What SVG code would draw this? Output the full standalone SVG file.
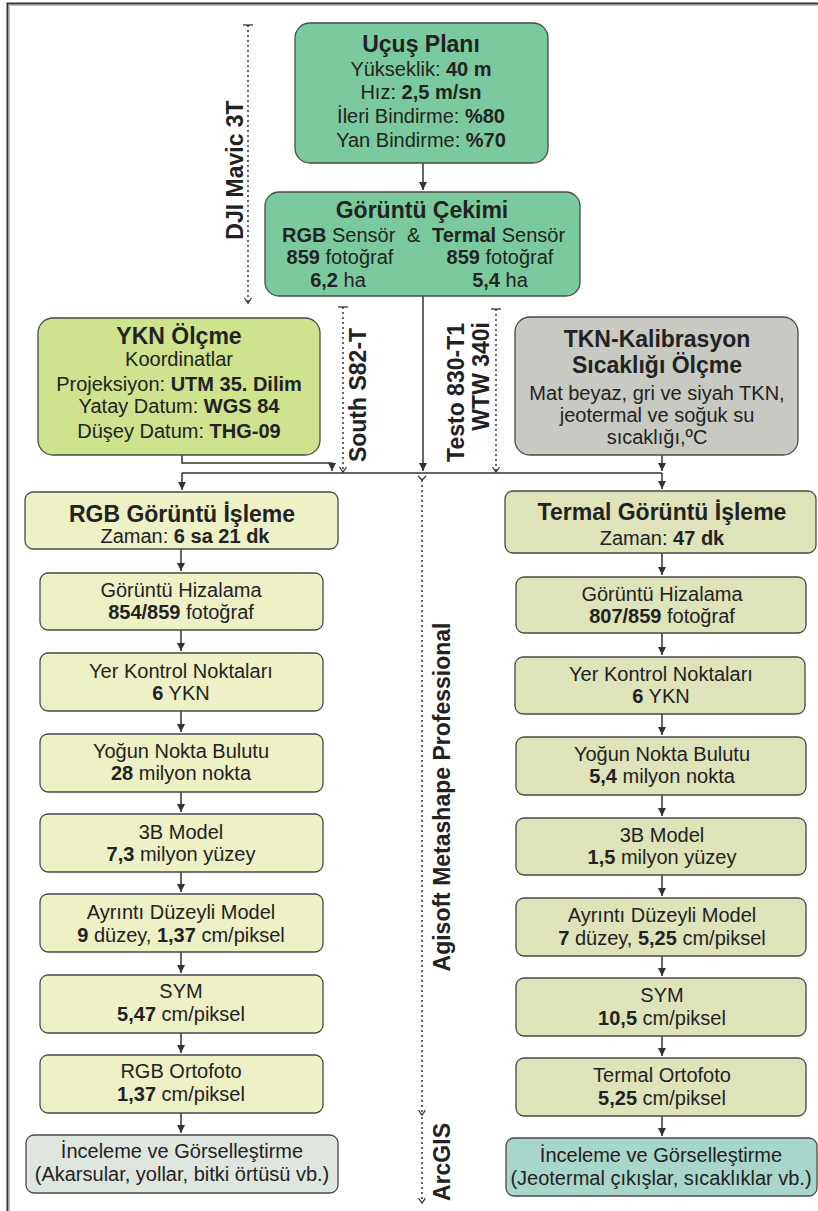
<svg xmlns="http://www.w3.org/2000/svg" width="818" height="1211" viewBox="0 0 818 1211">
<defs>
<style>
text{font-family:"Liberation Sans",Arial,sans-serif;fill:#222;}
.t{font-size:20px;text-anchor:middle;}
.h{font-size:23px;font-weight:bold;text-anchor:middle;}
.b{font-weight:bold;}
.lab{font-size:23px;font-weight:bold;text-anchor:middle;}
.box{stroke:#4a4a4a;stroke-width:1.3;}
.g1{fill:#7bca9f;}
.ykn{fill:#cfe28e;}
.tkn{fill:#c9c9c3;}
.ly{fill:#eef0c6;}
.ry{fill:#dfe3b9;}
.li{fill:#dfe5df;}
.ri{fill:#a9d6ca;}
.ln{fill:none;stroke:#333;stroke-width:1.5;}
.dt{fill:none;stroke:#333;stroke-width:1.5;stroke-dasharray:2 3;}
.tk{fill:none;stroke:#333;stroke-width:1.3;}
</style>
<marker id="ar" markerWidth="10" markerHeight="10" refX="8" refY="5" orient="auto" markerUnits="userSpaceOnUse">
<path d="M0,1 L8,5 L0,9 Z" fill="#333"/>
</marker>
<marker id="ch" markerWidth="10" markerHeight="10" refX="6" refY="5" orient="auto" markerUnits="userSpaceOnUse">
<path d="M1,1.5 L6,5 L1,8.5" fill="none" stroke="#333" stroke-width="1.3"/>
</marker>
</defs>
<rect x="0" y="0" width="818" height="1211" fill="#fff"/>
<g id="frame">
<path d="M7.5,1211 V3.5 H818" fill="none" stroke="#333" stroke-width="2"/>
<path d="M9.5,1211 V5.5 H818" fill="none" stroke="#bbb" stroke-width="1"/>
</g>

<g id="connectors">
<path class="ln" d="M423,163 V190" marker-end="url(#ar)"/>
<path class="ln" d="M423,296 V471" marker-end="url(#ar)"/>
<path class="ln" d="M182,455 V463 H332 V471" marker-end="url(#ar)"/>
<path class="ln" d="M662,455 V471" marker-end="url(#ar)"/>
<path class="ln" d="M182,473 H662"/>
<path class="ln" d="M182,473 V490" marker-end="url(#ar)"/>
<path class="ln" d="M662,473 V489" marker-end="url(#ar)"/>
<path class="ln" d="M181,549 V571" marker-end="url(#ar)"/>
<path class="ln" d="M181,630 V651" marker-end="url(#ar)"/>
<path class="ln" d="M181,711 V732" marker-end="url(#ar)"/>
<path class="ln" d="M181,792 V812" marker-end="url(#ar)"/>
<path class="ln" d="M181,872 V892" marker-end="url(#ar)"/>
<path class="ln" d="M181,952 V973" marker-end="url(#ar)"/>
<path class="ln" d="M181,1033 V1053" marker-end="url(#ar)"/>
<path class="ln" d="M181,1113 V1133" marker-end="url(#ar)"/>
<path class="ln" d="M662,553 V575" marker-end="url(#ar)"/>
<path class="ln" d="M662,633 V655" marker-end="url(#ar)"/>
<path class="ln" d="M662,714 V735" marker-end="url(#ar)"/>
<path class="ln" d="M662,795 V816" marker-end="url(#ar)"/>
<path class="ln" d="M662,875 V896" marker-end="url(#ar)"/>
<path class="ln" d="M662,956 V976" marker-end="url(#ar)"/>
<path class="ln" d="M662,1036 V1056" marker-end="url(#ar)"/>
<path class="ln" d="M662,1116 V1136" marker-end="url(#ar)"/>
<!-- dotted instrument lines -->
<path class="dt" d="M248,25 V303" marker-end="url(#ch)"/>
<path class="tk" d="M243,25 H253"/>
<path class="dt" d="M343,307 V472" marker-end="url(#ch)"/>
<path class="tk" d="M338,307 H348"/>
<path class="dt" d="M496,309 V472" marker-end="url(#ch)"/>
<path class="tk" d="M491,309 H501"/>
<path class="dt" d="M422,480 V1115" marker-end="url(#ch)"/>
<path class="tk" d="M418,476 L422,480 L426,476"/>
<path class="dt" d="M422,1117 V1203" marker-end="url(#ch)"/>
</g>

<g id="labels">
<text class="lab" transform="translate(243,170) rotate(-90)">DJI Mavic 3T</text>
<text class="lab" transform="translate(366,395) rotate(-90)">South S82-T</text>
<text class="lab" style="text-anchor:end" transform="translate(464,323) rotate(-90)">Testo 830-T1</text>
<text class="lab" style="text-anchor:end" transform="translate(489,322) rotate(-90)">WTW 340i</text>
<text class="lab" transform="translate(450,797) rotate(-90)">Agisoft Metashape Professional</text>
<text class="lab" transform="translate(450,1162) rotate(-90)">ArcGIS</text>
</g>

<g id="ucus">
<rect class="box g1" x="295" y="23" width="253" height="140" rx="15"/>
<text class="h" x="421" y="52">Uçuş Planı</text>
<text class="t" x="421" y="76">Yükseklik: <tspan class="b">40 m</tspan></text>
<text class="t" x="421" y="99">Hız: <tspan class="b">2,5 m/sn</tspan></text>
<text class="t" x="421" y="123">İleri Bindirme: <tspan class="b">%80</tspan></text>
<text class="t" x="421" y="147">Yan Bindirme: <tspan class="b">%70</tspan></text>
</g>

<g id="cekim">
<rect class="box g1" x="265" y="192" width="315" height="104" rx="14"/>
<text class="h" x="422" y="218">Görüntü Çekimi</text>
<text class="t" x="282" y="242" style="text-anchor:start"><tspan class="b">RGB</tspan> Sensör</text>
<text class="t" x="407" y="242" style="text-anchor:start">&amp;</text>
<text class="t" x="432" y="242" style="text-anchor:start"><tspan class="b">Termal</tspan> Sensör</text>
<text class="t" x="340" y="264"><tspan class="b">859</tspan> fotoğraf</text>
<text class="t" x="500" y="264"><tspan class="b">859</tspan> fotoğraf</text>
<text class="t" x="338" y="287"><tspan class="b">6,2</tspan> ha</text>
<text class="t" x="500" y="287"><tspan class="b">5,4</tspan> ha</text>
</g>

<g id="ykn">
<rect class="box ykn" x="38" y="318" width="282" height="137" rx="15"/>
<text class="h" x="179" y="344">YKN Ölçme</text>
<text class="t" x="179" y="366">Koordinatlar</text>
<text class="t" x="179" y="391">Projeksiyon: <tspan class="b">UTM 35. Dilim</tspan></text>
<text class="t" x="179" y="413">Yatay Datum: <tspan class="b">WGS 84</tspan></text>
<text class="t" x="179" y="438">Düşey Datum: <tspan class="b">THG-09</tspan></text>
</g>

<g id="tkn">
<rect class="box tkn" x="515" y="317" width="283" height="138" rx="15"/>
<text class="h" x="657" y="347">TKN-Kalibrasyon</text>
<text class="h" x="657" y="373">Sıcaklığı Ölçme</text>
<text class="t" x="657" y="400">Mat beyaz, gri ve siyah TKN,</text>
<text class="t" x="657" y="422">jeotermal ve soğuk su</text>
<text class="t" x="657" y="444">sıcaklığı,ºC</text>
</g>

<g id="rgb-isleme">
<rect class="box ly" x="25" y="492" width="313" height="57" rx="8"/>
<text class="h" x="182" y="522">RGB Görüntü İşleme</text>
<text class="t" x="185" y="543">Zaman: <tspan class="b">6 sa 21 dk</tspan></text>
</g>

<g id="termal-isleme">
<rect class="box ry" x="505" y="491" width="311" height="62" rx="8"/>
<text class="h" x="662" y="520">Termal Görüntü İşleme</text>
<text class="t" x="662" y="545">Zaman: <tspan class="b">47 dk</tspan></text>
</g>

<g id="l1"><rect class="box ly" x="40" y="573" width="283" height="57" rx="8"/>
<text class="t" x="181" y="597">Görüntü Hizalama</text>
<text class="t" x="181" y="619"><tspan class="b">854/859</tspan> fotoğraf</text></g>
<g id="l2"><rect class="box ly" x="40" y="653" width="283" height="58" rx="8"/>
<text class="t" x="181" y="678">Yer Kontrol Noktaları</text>
<text class="t" x="181" y="700"><tspan class="b">6</tspan> YKN</text></g>
<g id="l3"><rect class="box ly" x="40" y="734" width="283" height="58" rx="8"/>
<text class="t" x="181" y="758">Yoğun Nokta Bulutu</text>
<text class="t" x="181" y="780"><tspan class="b">28</tspan> milyon nokta</text></g>
<g id="l4"><rect class="box ly" x="40" y="814" width="283" height="58" rx="8"/>
<text class="t" x="181" y="839">3B Model</text>
<text class="t" x="181" y="861"><tspan class="b">7,3</tspan> milyon yüzey</text></g>
<g id="l5"><rect class="box ly" x="40" y="894" width="283" height="58" rx="8"/>
<text class="t" x="181" y="919">Ayrıntı Düzeyli Model</text>
<text class="t" x="181" y="942"><tspan class="b">9</tspan> düzey, <tspan class="b">1,37</tspan> cm/piksel</text></g>
<g id="l6"><rect class="box ly" x="40" y="975" width="283" height="58" rx="8"/>
<text class="t" x="181" y="998">SYM</text>
<text class="t" x="181" y="1021"><tspan class="b">5,47</tspan> cm/piksel</text></g>
<g id="l7"><rect class="box ly" x="40" y="1055" width="283" height="58" rx="8"/>
<text class="t" x="181" y="1078">RGB Ortofoto</text>
<text class="t" x="181" y="1101"><tspan class="b">1,37</tspan> cm/piksel</text></g>
<g id="l8"><rect class="box li" x="26" y="1135" width="312" height="58" rx="8"/>
<text class="t" x="182" y="1158">İnceleme ve Görselleştirme</text>
<text class="t" x="182" y="1181">(Akarsular, yollar, bitki örtüsü vb.)</text></g>

<g id="r1"><rect class="box ry" x="516" y="577" width="290" height="56" rx="8"/>
<text class="t" x="662" y="601">Görüntü Hizalama</text>
<text class="t" x="662" y="623"><tspan class="b">807/859</tspan> fotoğraf</text></g>
<g id="r2"><rect class="box ry" x="515" y="657" width="290" height="57" rx="8"/>
<text class="t" x="661" y="681">Yer Kontrol Noktaları</text>
<text class="t" x="661" y="703"><tspan class="b">6</tspan> YKN</text></g>
<g id="r3"><rect class="box ry" x="516" y="737" width="290" height="58" rx="8"/>
<text class="t" x="662" y="761">Yoğun Nokta Bulutu</text>
<text class="t" x="662" y="783"><tspan class="b">5,4</tspan> milyon nokta</text></g>
<g id="r4"><rect class="box ry" x="516" y="818" width="290" height="57" rx="8"/>
<text class="t" x="662" y="842">3B Model</text>
<text class="t" x="662" y="864"><tspan class="b">1,5</tspan> milyon yüzey</text></g>
<g id="r5"><rect class="box ry" x="516" y="898" width="290" height="58" rx="8"/>
<text class="t" x="662" y="922">Ayrıntı Düzeyli Model</text>
<text class="t" x="662" y="945"><tspan class="b">7</tspan> düzey, <tspan class="b">5,25</tspan> cm/piksel</text></g>
<g id="r6"><rect class="box ry" x="516" y="978" width="290" height="58" rx="8"/>
<text class="t" x="662" y="1002">SYM</text>
<text class="t" x="662" y="1025"><tspan class="b">10,5</tspan> cm/piksel</text></g>
<g id="r7"><rect class="box ry" x="516" y="1058" width="290" height="58" rx="8"/>
<text class="t" x="662" y="1082">Termal Ortofoto</text>
<text class="t" x="662" y="1105"><tspan class="b">5,25</tspan> cm/piksel</text></g>
<g id="r8"><rect class="box ri" x="506" y="1138" width="311" height="58" rx="8"/>
<text class="t" x="661" y="1162">İnceleme ve Görselleştirme</text>
<text class="t" x="661" y="1185">(Jeotermal çıkışlar, sıcaklıklar vb.)</text></g>
</svg>
